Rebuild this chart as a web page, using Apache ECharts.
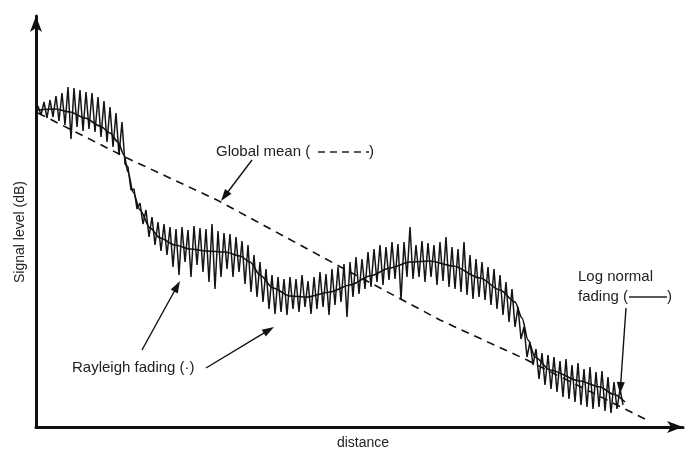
<!DOCTYPE html>
<html><head><meta charset="utf-8">
<script src="https://cdn.jsdelivr.net/npm/echarts@6/dist/echarts.min.js"></script>
<style>html,body{margin:0;padding:0;background:#fff}#c{width:691px;height:452px}</style>
</head><body><div id="c"></div>
<script>
// Rayleigh fading samples (distance grid start/step, levels)
const rayleighStartDistance = 2;
const rayleighStepDistance = 3;
const rayleighLevel = [
  321,312,325,309,327,310,331,306,334,302,340,288,339,300,337,296,335,
  298,334,295,330,290,326,285,320,280,314,272,305,
  263,260,237,238,218,224,
  203,217,190,210,182,205,176,203,172,200,
  160,198,152,200,165,197,150,201,162,199,155,198,145,203,138,196,150,194,158,193,150,190,155,
  186,143,182,135,172,130,165,125,158,118,152,113,150,115,148,112,150,
  118,148,115,152,120,146,113,150,118,155,120,153,112,158,122,160,125,163,110,165,130,170,133,168,138,175,140,
  178,145,182,142,180,147,185,148,183,127,185,150,200,148,182,150,186,145,184,150,182,142,185,146,190,140,180,138,178,135,185,132,172,128,168,130,
  165,127,160,122,158,118,152,112,145,105,138,100,120,88,100,70,85,62,78,
  48,74,42,72,38,70,35,66,30,68,28,62,25,64,22,58,20,60,18,55,20,56,16,50,14,45,18,38,22
];
// Log normal fading (local mean)
const logNormalDistance = [2,19,34,49,64,74,82,88,92,97,104,114,124,139,154,171,189,204,214,224,237,254,271,294,314,334,354,374,394,417,444,464,479,486,492,499,514,544,564,577,589];
const logNormalLevel = [317,318,315,309,301,294,285,272,255,235,217,199,189,182,178,176,175,171,165,152,139,131,130,135,142,151,159,165,166,161,149,137,125,109,87,70,57,46,40,33,25];
// Global mean
const globalMeanDistance = [2,91,181,314,404,491,591,611];
const globalMeanLevel = [314,269,227,155,107,67,17,7];

const xAxisTitle = 'distance';
const yAxisTitle = 'Signal level (dB)';
const globalLabel = 'Global mean (';
const rayleighLabel = 'Rayleigh fading (·)';
const logLabel1 = 'Log normal';
const logLabel2 = 'fading (';

const rayleighData = rayleighLevel.map((v, i) => [rayleighStartDistance + i * rayleighStepDistance, v]);
const logNormalData = logNormalDistance.map((d, i) => [d, logNormalLevel[i]]);
const globalMeanData = globalMeanDistance.map((d, i) => [d, globalMeanLevel[i]]);

const FONT = '"Liberation Sans", Arial, sans-serif';
const TXT = '#222';
function txt(text, x, y, size, align) {
  return { type: 'text', x: x, y: y, silent: true,
    style: { text: text, font: size + 'px ' + FONT, fill: TXT,
      align: align || 'left', verticalAlign: 'middle',
      textAlign: align || 'left', textVerticalAlign: 'middle' } };
}
function arrow(x0, y0, x1, y1) {
  const dx = x1 - x0, dy = y1 - y0, L = Math.hypot(dx, dy);
  const ux = dx / L, uy = dy / L, nx = -uy, ny = ux;
  const len = 12, hw = 4;
  const bx = x1 - ux * len, by = y1 - uy * len;
  return [
    { type: 'line', silent: true, shape: { x1: x0, y1: y0, x2: bx + ux * 2, y2: by + uy * 2 },
      style: { stroke: '#111', lineWidth: 1.4 } },
    { type: 'polygon', silent: true,
      shape: { points: [[x1, y1], [bx + nx * hw, by + ny * hw], [bx - nx * hw, by - ny * hw]] },
      style: { fill: '#111' } }
  ];
}

const chart = echarts.init(document.getElementById('c'), null, { renderer: 'canvas' });
chart.setOption({
  animation: false,
  backgroundColor: '#fff',
  grid: { left: 36, right: 8, top: 16, bottom: 25 },
  xAxis: { type: 'value', min: 0, max: 647,
    axisLine: { show: true, onZero: false, symbol: ['none', 'arrow'], symbolSize: [9, 16],
      lineStyle: { color: '#111', width: 3 } },
    axisTick: { show: false }, axisLabel: { show: false }, splitLine: { show: false } },
  yAxis: { type: 'value', min: 0, max: 411,
    axisLine: { show: true, onZero: false, symbol: ['none', 'arrow'], symbolSize: [9, 16],
      lineStyle: { color: '#111', width: 3 } },
    axisTick: { show: false }, axisLabel: { show: false }, splitLine: { show: false } },
  series: [
    { name: 'Rayleigh fading', type: 'line', data: rayleighData, symbol: 'none',
      lineStyle: { color: '#151515', width: 1.5 }, z: 2 },
    { name: 'Log normal fading', type: 'line', data: logNormalData, symbol: 'none',
      smooth: 0.3, smoothMonotone: 'x', lineStyle: { color: '#111', width: 1.6 }, z: 3 },
    { name: 'Global mean', type: 'line', data: globalMeanData, symbol: 'none',
      lineStyle: { color: '#111', width: 1.6, type: [8, 6] }, z: 3 }
  ],
  graphic: [
    txt(xAxisTitle, 363, 443, 14, 'center'),
    { type: 'text', x: 20, y: 232, rotation: Math.PI / 2, silent: true,
      style: { text: yAxisTitle, font: '14px ' + FONT, fill: TXT, align: 'center', verticalAlign: 'middle',
        textAlign: 'center', textVerticalAlign: 'middle' } },
    txt(globalLabel, 216, 152, 15),
    { type: 'line', silent: true, shape: { x1: 318, y1: 152, x2: 369, y2: 152 },
      style: { stroke: '#222', lineWidth: 1.4, lineDash: [7, 5] } },
    txt(')', 369, 152, 15),
    txt(rayleighLabel, 72, 368, 15),
    txt(logLabel1, 578, 277, 15),
    txt(logLabel2, 578, 297, 15),
    { type: 'line', silent: true, shape: { x1: 629, y1: 297, x2: 667, y2: 297 },
      style: { stroke: '#222', lineWidth: 1.4 } },
    txt(')', 667, 297, 15),
    ...arrow(252, 160, 221, 201),
    ...arrow(142, 350, 180, 281),
    ...arrow(206, 368, 274, 327),
    ...arrow(626, 308, 620, 394)
  ]
});
</script>
</body></html>
